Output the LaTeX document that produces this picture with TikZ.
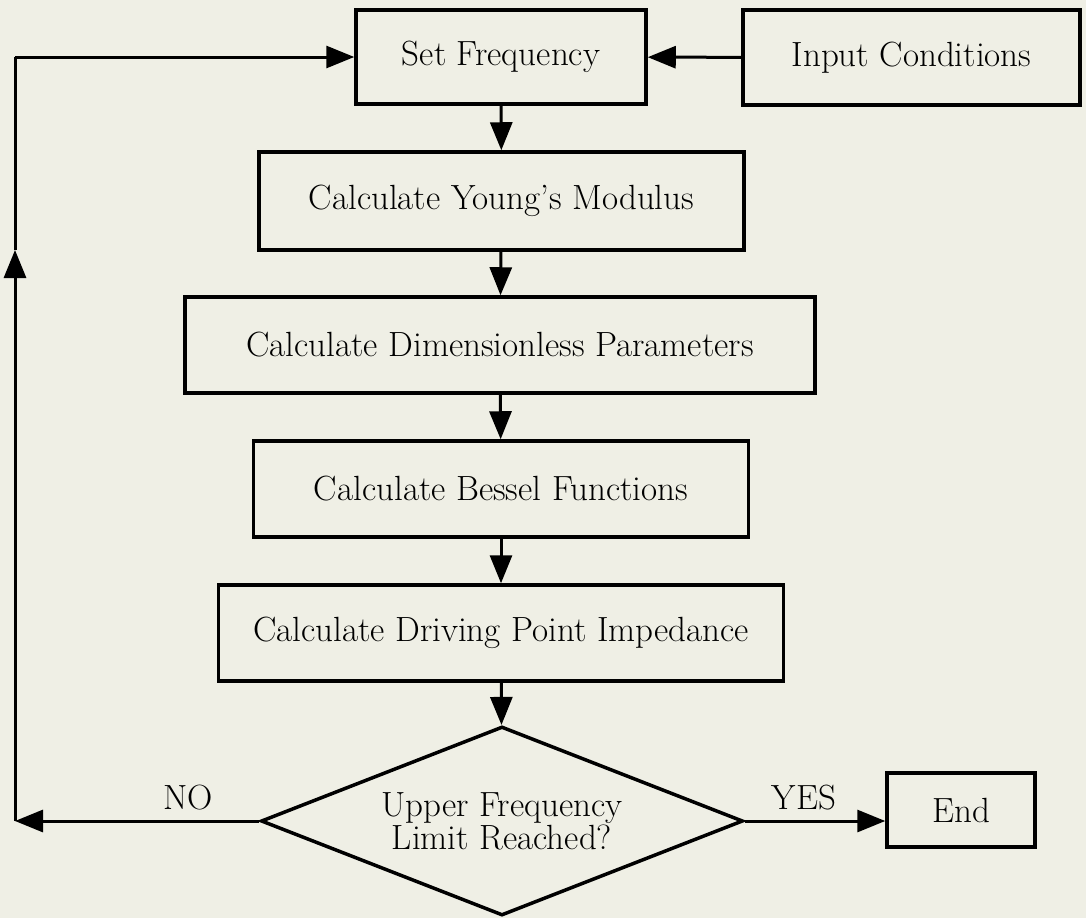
\documentclass[tikz,border=0pt]{standalone}
\usepackage{fontspec}
\usetikzlibrary{arrows.meta,shapes.geometric}
\definecolor{paper}{RGB}{239,239,229}
\tikzset{
  blok/.style={draw, line width=3.5pt, inner sep=0pt, align=center,
    minimum height=96pt, font=\fontsize{35}{42}\selectfont},
  ruit/.style={draw, diamond, aspect=2.55, line width=3.5pt, inner sep=0pt,
    align=center, minimum width=482pt, minimum height=189pt,
    font=\fontsize{35}{29}\selectfont},
  pijl/.style={line width=3pt, -{Triangle[length=28pt,width=22pt]}},
  lijn/.style={line width=3pt},
  tekst/.style={font=\fontsize{35}{42}\selectfont}
}
\begin{document}
\begin{tikzpicture}[x=1pt,y=-1pt]

	\path[use as bounding box, fill=paper] (0,0) rectangle (1086,918);

	\node[blok, minimum width=290pt, minimum height=94pt] (setf) at (501,57) {Set Frequency};
	\node[blok, minimum width=337pt, minimum height=95pt] (input) at (911.5,57.5) {Input Conditions};
	\node[blok, minimum width=485pt, minimum height=98pt] (young) at (501.5,201) {Calculate Young's Modulus};
	\node[blok, minimum width=630pt] (dimless) at (500,345) {Calculate Dimensionless Parameters};
	\node[blok, minimum width=495pt] (bessel) at (501,489) {Calculate Bessel Functions};
	\node[blok, minimum width=565pt] (driving) at (501,633) {Calculate Driving Point Impedance};
	\node[ruit] (limit) at (502,821) {Upper Frequency\\Limit Reached?};
	\node[blok, minimum width=148pt, minimum height=74pt] (endb) at (961,810) {End};

	\coordinate (loopb) at (15,821);
	\coordinate (loopm) at (15,250);
	\coordinate (loopt) at (15,57);

	\draw[pijl] (input) -- (setf);
	\draw[pijl] (setf) -- (young);
	\draw[pijl] (young) -- (dimless);
	\draw[pijl] (dimless) -- (bessel);
	\draw[pijl] (bessel) -- (driving);
	\draw[pijl] (driving) -- (limit);
	\draw[pijl] (limit.east) -- (endb.west |- limit.east);

	\draw[pijl] (limit.west) -- (loopb);
	\draw[pijl] (loopb) -- (loopm);
	\draw[lijn] (loopm) -- (loopt);
	\draw[pijl] (loopt) -- (setf.west |- loopt);

	\node[tekst] (no) at (188,798) {NO};
	\node[tekst] (yes) at (804,798) {YES};

\end{tikzpicture}
\end{document}
